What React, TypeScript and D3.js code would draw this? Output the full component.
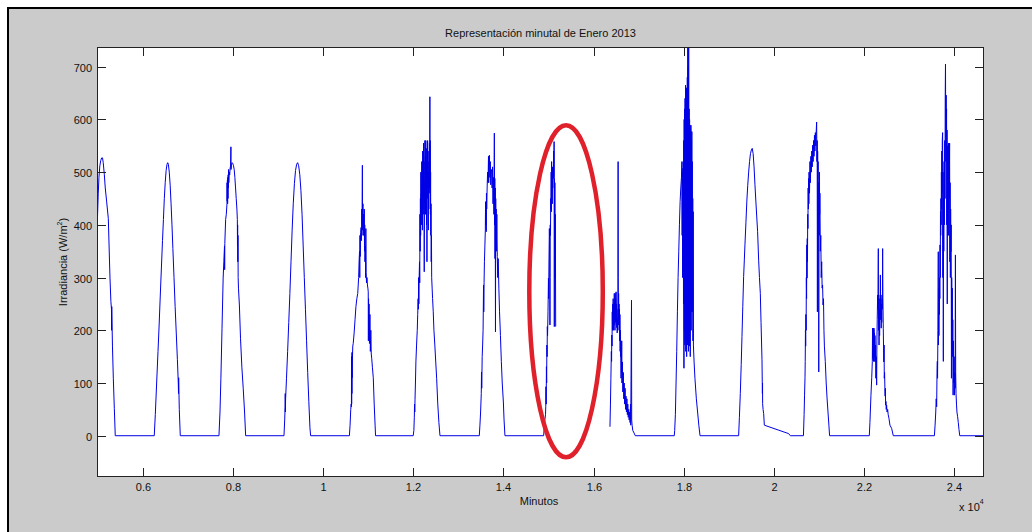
import React from 'react';
import * as d3 from 'd3';

// ---------- data (minutes, irradiance W/m2) ----------
const titleText = 'Representación minutal de Enero 2013';
const xLabelText = 'Minutos';
const xTickValues = [6000, 8000, 10000, 12000, 14000, 16000, 18000, 20000, 22000, 24000];
const xTickLabels = ['0.6', '0.8', '1', '1.2', '1.4', '1.6', '1.8', '2', '2.2', '2.4'];
const yTickValues = [0, 100, 200, 300, 400, 500, 600, 700];
const xDomain = [4987, 24660];
const yDomain = [-78.3, 737.4];

type P = [number, number | null];

const dayA: P[] = [[4987,385],[5000,420],[5015,460],[5030,490],[5050,512],[5070,522],[5090,527],[5110,527],[5125,518],[5150,495],[5170,470],[5200,445],[5238,412],[5255,360],[5275,299],[5295,255],[5308,240],[5311,200],[5314,245],[5318,225],[5330,170],[5349,109],[5371,52],[5392,0]];
const dayB: P[] = [[6257,0],[6280,40],[6310,100],[6340,160],[6365,210],[6390,265],[6416,320],[6440,370],[6460,410],[6480,450],[6500,480],[6520,503],[6540,515],[6555,518],[6570,515],[6590,500],[6610,475],[6630,440],[6650,400],[6670,355],[6695,300],[6720,245],[6745,195],[6770,145],[6790,100],[6795,80],[6798,110],[6812,50],[6834,0]];
const dayC: P[] = [[7692,0],[7715,45],[7735,109],[7760,204],[7785,299],[7800,330],[7815,360],[7818,315],[7822,365],[7840,410],[7855,420],[7870,440],[7872,480],[7875,445],[7880,485],[7884,440],[7888,490],[7892,450],[7896,495],[7900,470],[7905,505],[7910,480],[7920,500],[7930,495],[7940,508],[7950,512],[7957,548],[7960,505],[7970,515],[7985,518],[8000,516],[8015,512],[8030,505],[8045,490],[8060,470],[8075,450],[8090,430],[8100,410],[8103,360],[8106,400],[8110,330],[8113,380],[8118,300],[8125,280],[8145,248],[8170,185],[8200,130],[8230,90],[8260,45],[8284,0]];
const dayD: P[] = [[9134,0],[9150,30],[9160,55],[9162,80],[9165,45],[9170,70],[9190,109],[9215,160],[9240,215],[9265,270],[9290,330],[9315,390],[9340,440],[9365,478],[9390,503],[9415,515],[9437,518],[9460,512],[9485,495],[9510,465],[9535,420],[9560,360],[9585,300],[9610,240],[9635,180],[9660,120],[9685,65],[9710,15],[9725,0]];
const dayE: P[] = [[10585,0],[10600,20],[10615,50],[10625,60],[10630,55],[10632,150],[10635,60],[10638,120],[10640,80],[10643,158],[10646,110],[10650,140],[10660,170],[10670,175],[10690,195],[10710,220],[10730,245],[10750,260],[10770,270],[10790,300],[10800,330],[10810,350],[10815,300],[10820,380],[10825,340],[10830,375],[10835,385],[10845,395],[10850,370],[10860,430],[10865,400],[10873,513],[10876,420],[10880,390],[10885,440],[10888,380],[10892,400],[10900,420],[10910,380],[10915,430],[10920,350],[10925,400],[10930,330],[10940,360],[10945,300],[10950,393],[10955,310],[10965,290],[10975,300],[10985,286],[10995,280],[11003,273],[11006,180],[11010,260],[11015,200],[11020,250],[11030,175],[11040,230],[11050,160],[11060,200],[11070,155],[11080,147],[11095,130],[11115,110],[11135,60],[11155,20],[11165,0]];
const dayF: P[] = [[12000,0],[12015,10],[12025,35],[12030,60],[12035,45],[12040,68],[12050,100],[12060,140],[12075,172],[12090,200],[12100,230],[12110,260],[12115,240],[12120,300],[12125,250],[12130,290],[12140,330],[12145,290],[12150,420],[12155,350],[12160,450],[12165,380],[12170,500],[12175,400],[12180,460],[12185,420],[12190,520],[12195,400],[12200,480],[12205,390],[12210,540],[12215,430],[12220,510],[12225,450],[12230,555],[12235,420],[12240,520],[12245,311],[12250,480],[12255,440],[12260,560],[12265,470],[12270,530],[12275,420],[12280,560],[12285,460],[12290,545],[12295,400],[12300,510],[12305,330],[12310,520],[12315,470],[12320,560],[12325,450],[12330,540],[12335,390],[12340,500],[12345,430],[12350,520],[12355,460],[12360,555],[12365,470],[12370,643],[12374,480],[12378,560],[12382,420],[12386,500],[12390,380],[12395,440],[12400,330],[12405,380],[12410,300],[12420,280],[12430,260],[12445,235],[12460,200],[12480,172],[12500,140],[12520,109],[12545,60],[12570,25],[12594,0]];
const dayG: P[] = [[13466,0],[13480,20],[13495,45],[13510,80],[13515,121],[13520,90],[13530,150],[13540,172],[13550,200],[13555,240],[13560,286],[13565,235],[13572,290],[13580,330],[13590,360],[13600,390],[13605,444],[13610,400],[13615,440],[13620,387],[13625,460],[13630,430],[13640,470],[13650,500],[13660,480],[13670,530],[13675,480],[13680,520],[13690,532],[13700,490],[13710,520],[13720,476],[13730,500],[13740,505],[13750,470],[13760,510],[13770,440],[13780,490],[13790,420],[13800,574],[13805,400],[13810,488],[13815,336],[13820,470],[13825,197],[13830,450],[13835,380],[13840,430],[13845,350],[13855,420],[13865,340],[13875,300],[13885,336],[13900,280],[13915,235],[13935,190],[13955,141],[13975,100],[14000,64],[14015,30],[14035,0]];
const dayH: P[] = [[14893,0],[14920,30],[14935,40],[14940,55],[14945,93],[14950,60],[14955,131],[14960,100],[14965,172],[14970,150],[14975,207],[14980,190],[14990,235],[15000,299],[15005,260],[15010,320],[15020,393],[15025,370],[15030,299],[15033,210],[15036,300],[15040,400],[15045,380],[15050,450],[15055,430],[15060,500],[15065,425],[15070,520],[15075,460],[15080,480],[15085,440],[15090,510],[15095,470],[15100,500],[15110,488],[15115,540],[15120,490],[15125,558],[15128,430],[15130,207],[15133,488],[15138,380],[15142,480],[15146,299],[15150,420],[15155,360],[15160,207],[15170,null]];
const dayI: P[] = [[16364,17],[16375,60],[16385,109],[16395,160],[16400,141],[16405,191],[16410,170],[16415,235],[16420,200],[16425,250],[16430,215],[16435,260],[16440,230],[16445,200],[16450,250],[16455,210],[16460,270],[16465,220],[16470,240],[16475,200],[16480,270],[16485,215],[16490,260],[16495,230],[16500,273],[16505,210],[16510,250],[16515,205],[16520,240],[16525,195],[16530,220],[16535,200],[16540,250],[16545,520],[16548,300],[16552,210],[16556,270],[16560,216],[16565,250],[16570,200],[16575,240],[16580,180],[16585,230],[16590,160],[16595,200],[16600,150],[16605,180],[16610,109],[16615,160],[16620,120],[16625,180],[16630,100],[16640,140],[16650,83],[16660,120],[16670,70],[16680,100],[16690,60],[16700,90],[16710,50],[16720,75],[16730,45],[16740,70],[16750,40],[16760,60],[16770,35],[16780,50],[16790,30],[16800,45],[16810,25],[16820,60],[16825,20],[16842,257],[16846,30],[16855,20],[16870,10],[16900,5],[16926,0]];
const dayJ: P[] = [[17790,0],[17800,10],[17815,40],[17830,100],[17845,160],[17860,235],[17875,300],[17890,349],[17905,400],[17920,444],[17935,470],[17950,490],[17960,520],[17965,380],[17970,500],[17975,300],[17980,507],[17985,362],[17990,520],[17995,250],[18000,560],[18005,128],[18010,600],[18015,200],[18020,620],[18025,172],[18030,640],[18035,180],[18040,665],[18045,160],[18050,650],[18055,200],[18060,660],[18065,150],[18070,640],[18075,300],[18080,680],[18085,172],[18090,760],[18095,250],[18100,700],[18105,160],[18110,760],[18115,300],[18120,620],[18125,170],[18130,600],[18135,200],[18140,589],[18145,150],[18150,580],[18155,250],[18160,589],[18165,200],[18170,560],[18175,235],[18180,577],[18185,300],[18190,520],[18195,235],[18200,450],[18205,180],[18210,425],[18215,172],[18230,140],[18249,109],[18280,70],[18308,45],[18335,20],[18362,0]];
const dayK: P[] = [[19218,0],[19235,35],[19255,80],[19275,135],[19292,188],[19310,245],[19329,302],[19345,335],[19358,362],[19380,405],[19400,445],[19420,475],[19440,500],[19460,520],[19480,535],[19500,542],[19520,545],[19540,535],[19560,510],[19580,476],[19600,445],[19620,415],[19639,387],[19662,333],[19680,300],[19699,270],[19715,215],[19736,144],[19745,80],[19748,100],[19750,61],[19760,50],[19773,42],[19788,20],[20327,4],[20364,0]];
const dayL: P[] = [[20655,0],[20670,40],[20680,77],[20690,110],[20695,141],[20700,200],[20705,170],[20710,230],[20715,200],[20720,300],[20725,260],[20730,362],[20735,299],[20740,374],[20745,330],[20750,420],[20755,393],[20760,470],[20765,430],[20770,488],[20775,440],[20780,500],[20790,460],[20800,520],[20810,480],[20820,530],[20830,500],[20840,540],[20850,510],[20860,551],[20870,520],[20880,560],[20890,530],[20900,570],[20910,540],[20920,575],[20930,550],[20940,580],[20948,595],[20955,520],[20960,560],[20965,235],[20970,540],[20975,470],[20980,520],[20985,400],[20990,480],[20995,121],[21000,450],[21005,380],[21010,500],[21015,420],[21020,460],[21030,350],[21040,380],[21050,300],[21060,330],[21070,280],[21080,286],[21090,248],[21100,260],[21110,200],[21120,170],[21140,141],[21160,100],[21180,70],[21200,45],[21220,20],[21235,0]];
const dayM: P[] = [[22116,0],[22130,25],[22153,77],[22170,110],[22183,141],[22188,204],[22192,150],[22196,200],[22200,145],[22204,204],[22208,141],[22212,200],[22216,150],[22220,204],[22225,141],[22230,195],[22235,150],[22242,190],[22248,140],[22256,172],[22262,109],[22270,150],[22279,96],[22285,180],[22292,220],[22301,267],[22308,240],[22316,355],[22320,200],[22326,267],[22332,172],[22338,240],[22345,190],[22350,260],[22356,230],[22362,305],[22368,220],[22375,267],[22380,204],[22386,250],[22392,215],[22400,260],[22406,240],[22412,355],[22418,260],[22426,204],[22432,170],[22438,140],[22444,172],[22449,109],[22455,120],[22462,90],[22468,75],[22472,90],[22478,58],[22485,65],[22492,50],[22500,58],[22510,45],[22523,50],[22535,40],[22552,33],[22574,20],[22611,14],[22648,0]];
const dayN: P[] = [[23560,0],[23575,20],[23590,45],[23600,70],[23610,55],[23618,120],[23625,141],[23630,109],[23638,200],[23646,349],[23650,172],[23655,235],[23660,190],[23665,280],[23670,230],[23675,300],[23680,260],[23685,362],[23690,300],[23695,425],[23700,380],[23705,450],[23710,400],[23715,500],[23720,430],[23725,540],[23730,460],[23735,560],[23742,575],[23748,300],[23752,500],[23758,141],[23762,450],[23768,350],[23775,520],[23780,400],[23788,560],[23795,450],[23800,640],[23806,705],[23810,600],[23815,520],[23820,646],[23825,551],[23830,620],[23835,400],[23840,580],[23845,250],[23850,550],[23855,380],[23860,520],[23866,430],[23872,555],[23878,380],[23884,520],[23890,450],[23897,555],[23903,330],[23908,480],[23914,300],[23920,430],[23926,349],[23932,400],[23938,109],[23944,300],[23950,204],[23956,280],[23962,150],[23968,220],[23975,77],[23982,180],[23990,100],[23998,150],[24006,77],[24014,120],[24020,90],[24026,343],[24032,120],[24040,80],[24050,60],[24060,45],[24075,36],[24090,25],[24105,12],[24122,0],[24660,0]];

// highlighted region (ellipse) in data units
const highlightCenter = [15390, 274];
const highlightRadius = [815, 315];

const series: P[] = [...dayA, ...dayB, ...dayC, ...dayD, ...dayE, ...dayF, ...dayG, ...dayH, ...dayI, ...dayJ, ...dayK, ...dayL, ...dayM, ...dayN];

export default function App() {
  const W = 1032, H = 532;
  const L = 97, R = 984, T = 47, B = 477;
  const x = d3.scaleLinear().domain(xDomain).range([L, R]);
  const y = d3.scaleLinear().domain(yDomain).range([B, T]);
  const line = d3.line<P>()
    .defined(d => d[1] !== null)
    .x(d => x(d[0]))
    .y(d => y(d[1] as number));
  const tl = 9;
  const font = "'Liberation Sans', Arial, sans-serif";
  const axisColor = '#222';
  const ecx = x(highlightCenter[0]);
  const ecy = y(highlightCenter[1]);
  const erx = x(highlightCenter[0] + highlightRadius[0]) - ecx;
  const ery = ecy - y(highlightCenter[1] + highlightRadius[1]);
  return (
    <svg width={W} height={H} style={{ position: 'absolute', left: 0, top: 0 }} fontFamily={font}>
      <rect x={0} y={0} width={W} height={H} fill="#fff" />
      <rect x={8} y={8} width={W} height={H} fill="#cbcbcb" />
      <line x1={7} x2={W} y1={8} y2={8} stroke="#000" strokeWidth={2} />
      <line x1={8} x2={8} y1={7} y2={H} stroke="#000" strokeWidth={2} />
      <defs>
        <clipPath id="plotClip">
          <rect x={L} y={T} width={R - L} height={B - T} />
        </clipPath>
      </defs>
      <rect x={L} y={T} width={R - L} height={B - T} fill="#fff" />
      <path d={line(series) || ''} fill="none" stroke="#0000e6" strokeWidth={1} clipPath="url(#plotClip)" />
      <rect x={L + 0.5} y={T + 0.5} width={R - L - 1} height={B - T - 1} fill="none" stroke={axisColor} strokeWidth={1} />
      {xTickValues.map((v, i) => {
        const px = Math.round(x(v)) + 0.5;
        return (
          <g key={'xt' + v}>
            <line x1={px} x2={px} y1={B} y2={B - tl} stroke={axisColor} />
            <line x1={px} x2={px} y1={T} y2={T + tl} stroke={axisColor} />
            <text x={px} y={491} fontSize={11} textAnchor="middle" fill="#111">{xTickLabels[i]}</text>
          </g>
        );
      })}
      {yTickValues.map(v => {
        const py = Math.round(y(v)) + 0.5;
        return (
          <g key={'yt' + v}>
            <line x1={L} x2={L + tl} y1={py} y2={py} stroke={axisColor} />
            <line x1={R} x2={R - tl} y1={py} y2={py} stroke={axisColor} />
            <text x={92} y={py + 4} fontSize={11} textAnchor="end" fill="#111">{v}</text>
          </g>
        );
      })}
      <text x={(L + R) / 2} y={37} fontSize={11} textAnchor="middle" fill="#111">{titleText}</text>
      <text x={539} y={505} fontSize={11} textAnchor="middle" fill="#111">{xLabelText}</text>
      <text x={959} y={511} fontSize={11} fill="#111">x 10<tspan dy={-7} fontSize={7}>4</tspan></text>
      <text transform={`translate(67,262) rotate(-90)`} fontSize={11} textAnchor="middle" fill="#111">
        Irradiancia (W/m<tspan dy={-5} fontSize={7}>2</tspan><tspan dy={5}>)</tspan>
      </text>
      <ellipse cx={ecx} cy={ecy} rx={erx} ry={ery} fill="none" stroke="#e0212b" strokeWidth={4.5} />
    </svg>
  );
}
